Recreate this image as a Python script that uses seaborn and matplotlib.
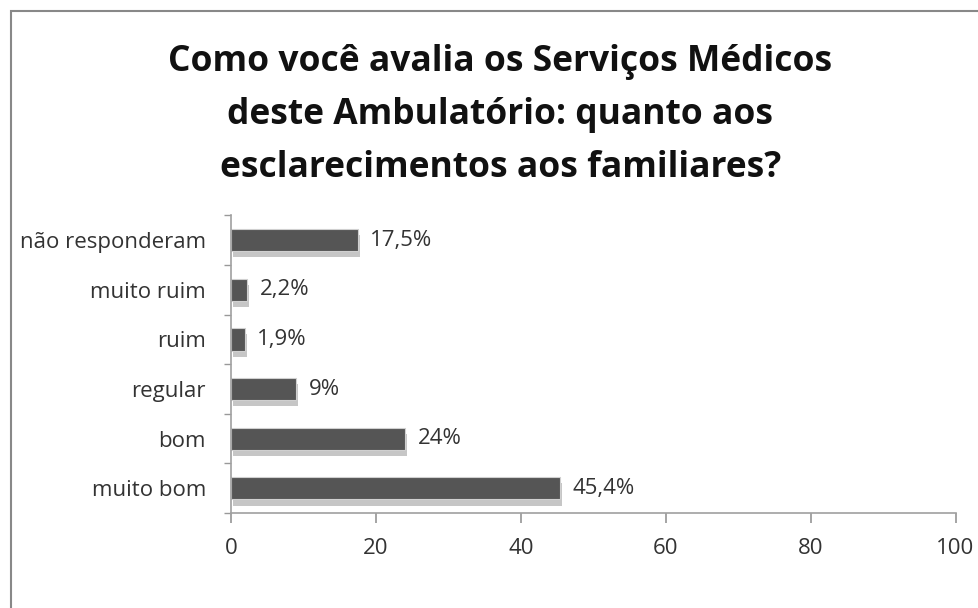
import matplotlib
matplotlib.use("Agg")
import matplotlib.pyplot as plt
import matplotlib.patheffects as pe
from matplotlib.patches import Rectangle
from matplotlib.ticker import FixedLocator
import seaborn as sns
import pandas as pd

categories = ["não responderam", "muito ruim", "ruim", "regular", "bom", "muito bom"]
values = [17.5, 2.2, 1.9, 9, 24, 45.4]
value_labels = ["17,5%", "2,2%", "1,9%", "9%", "24%", "45,4%"]
x_ticks = [0, 20, 40, 60, 80, 100]
title = "Como você avalia os Serviços Médicos\ndeste Ambulatório: quanto aos\nesclarecimentos aos familiares?"

df = pd.DataFrame({"categoria": categories, "valor": values})

sns.set_theme(style="white")
plt.rcParams["font.family"] = ["Open Sans", "DejaVu Sans"]

fig = plt.figure(figsize=(9.79, 6.08), dpi=100)
ax = fig.add_axes([0.236, 0.156, 0.740, 0.49])

sns.barplot(data=df, x="valor", y="categoria", orient="h", color="#555555",
            saturation=1, width=0.45, ax=ax)
for p in ax.patches:
    p.set_path_effects([pe.SimplePatchShadow(offset=(1.5, -4.5), shadow_rgbFace="#a8a8a8", alpha=0.65),
                        pe.Normal()])
    p.set_edgecolor("#d0d0d0")
    p.set_linewidth(0.8)

ax.bar_label(ax.containers[0], labels=value_labels, padding=9, fontsize=16, color="#333333")

ax.set_xlim(0, 100)
ax.set_ylim(5.5, -0.5)
ax.set_xticks(x_ticks)
ax.set_xticklabels([str(t) for t in x_ticks], fontsize=16, color="#333333")
ax.set_xlabel("")
ax.set_ylabel("")
ax.tick_params(axis="y", which="major", length=0, pad=18, labelsize=16, labelcolor="#333333")
ax.yaxis.set_minor_locator(FixedLocator([-0.5, 0.5, 1.5, 2.5, 3.5, 4.5, 5.5]))
ax.tick_params(axis="y", which="minor", length=5, direction="out", color="#999999", left=True)
ax.tick_params(axis="x", which="major", length=7, direction="out", color="#999999", bottom=True, pad=11)
for s in ["top", "right"]:
    ax.spines[s].set_visible(False)
for s in ["left", "bottom"]:
    ax.spines[s].set_color("#a0a0a0")
    ax.spines[s].set_linewidth(1.2)

fig.text(0.511, 1 - 115 / 608, title, ha="center", va="center", fontsize=25.5, fontweight="bold",
         color="#111111", linespacing=1.62)

fig.patches.append(Rectangle((0.011, -0.1), 1.2, 1.1 - 11 / 608, transform=fig.transFigure,
                             fill=False, edgecolor="#888888", linewidth=1.5))

fig.savefig("out.png", dpi=100)
